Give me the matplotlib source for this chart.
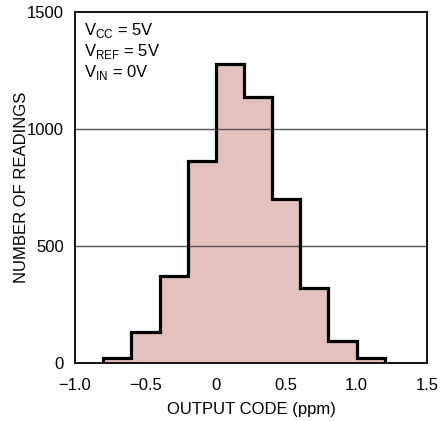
import numpy as np
import matplotlib
matplotlib.use("Agg")
import matplotlib.pyplot as plt

# --- DATOS ---
bin_edges = [-0.8, -0.6, -0.4, -0.2, 0.0, 0.2, 0.4, 0.6, 0.8, 1.0, 1.2]
counts = [20, 134, 372, 865, 1278, 1138, 700, 320, 94, 20]
x_ticks = [-1.0, -0.5, 0, 0.5, 1.0, 1.5]
x_tick_labels = ["\u22121.0", "\u22120.5", "0", "0.5", "1.0", "1.5"]
y_ticks = [0, 500, 1000, 1500]

plt.rcParams['font.family'] = ['Liberation Sans', 'DejaVu Sans']
plt.rcParams['mathtext.fontset'] = 'custom'
plt.rcParams['mathtext.rm'] = 'Liberation Sans'

fs = 12

fig = plt.figure(figsize=(4.4, 4.21), dpi=100)
ax = fig.add_axes([0.1705, 0.1378, 0.8, 0.8337])

# relleno del histograma
ax.stairs(counts, bin_edges, fill=True, color="#e3c1bc", zorder=1)
# lineas de cuadricula por encima del relleno
for yv in y_ticks[1:-1]:
    ax.axhline(yv, color="#555555", lw=1.0, zorder=2)
# contorno negro
ax.stairs(counts, bin_edges, baseline=0, fill=False, color="black", lw=2.3, zorder=3)

ax.set_xlim(-1.0, 1.5)
ax.set_ylim(0, 1500)
ax.set_xticks(x_ticks)
ax.set_xticklabels(x_tick_labels)
ax.set_yticks(y_ticks)
ax.tick_params(axis="x", length=0, labelsize=fs, pad=11)
ax.tick_params(axis="y", length=0, labelsize=fs, pad=8)
for s in ax.spines.values():
    s.set_linewidth(1.3)
    s.set_zorder(4)

ax.set_xlabel("OUTPUT CODE (ppm)", fontsize=fs, labelpad=6)
ax.set_ylabel("NUMBER OF READINGS", fontsize=fs)
ax.yaxis.set_label_coords(-0.153, 0.5)
ax.yaxis.label.set_va("center")

ax.text(0.025, 0.975,
        "V$_\\mathregular{CC}$ = 5V\nV$_\\mathregular{REF}$ = 5V\nV$_\\mathregular{IN}$ = 0V",
        transform=ax.transAxes, va="top", ha="left", fontsize=fs,
        linespacing=1.15)

fig.savefig("out.png", dpi=100)
